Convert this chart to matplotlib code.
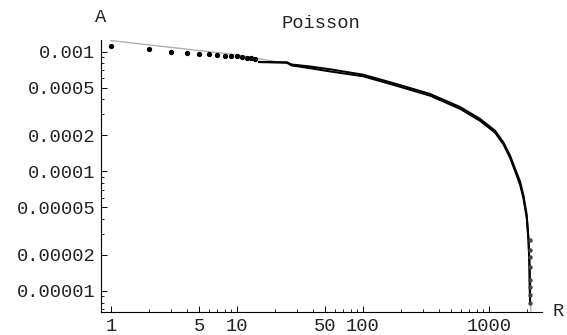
import numpy as np
import matplotlib
matplotlib.use('Agg')
import matplotlib.pyplot as plt
from matplotlib.ticker import FixedLocator, NullFormatter

plt.rcParams['font.family'] = ['Liberation Mono', 'DejaVu Sans Mono']

# first ranks, drawn as single dots
dot_rank = [1, 2, 3, 4, 5, 6, 7, 8, 9, 10, 11, 12, 13, 14]
dot_abund = [1.13e-3, 1.06e-3, 1.00e-3, 9.87e-4, 9.62e-4, 9.56e-4, 9.44e-4,
             9.30e-4, 9.26e-4, 9.20e-4, 9.03e-4, 8.95e-4, 8.90e-4, 8.78e-4]

# dense part of the samples (upper and lower edge of the black band)
curve_rank = [15, 25, 27, 38, 55, 100, 185, 340, 589, 849, 1117, 1299, 1468,
              1608, 1762, 1872, 1991, 2057, 2095, 2115]
curve_a = [8.25e-4, 8.17e-4, 7.85e-4, 7.55e-4, 7.15e-4, 6.45e-4, 5.38e-4,
           4.45e-4, 3.46e-4, 2.75e-4, 2.19e-4, 1.75e-4, 1.36e-4, 1.05e-4,
           8.2e-5, 6.3e-5, 4.3e-5, 2.75e-5, 1.62e-5, 7.9e-6]
curve_b = [8.20e-4, 8.12e-4, 7.70e-4, 7.30e-4, 6.85e-4, 6.25e-4, 5.20e-4,
           4.30e-4, 3.34e-4, 2.65e-4, 2.11e-4, 1.69e-4, 1.30e-4, 1.01e-4,
           7.75e-5, 6.0e-5, 4.08e-5, 2.6e-5, 1.56e-5, 7.9e-6]

# last ranks, drawn as dots
tail_rank = [2098, 2101, 2104, 2106, 2109, 2111, 2113, 2115]
tail_abund = [2.67e-5, 2.20e-5, 1.93e-5, 1.59e-5, 1.24e-5, 1.08e-5, 9.26e-6, 7.94e-6]

# gray reference curve
theo_rank = [1, 10, 20, 50, 100, 200, 500, 1000, 1300, 1608, 1762, 1872,
             1991, 2057, 2100, 2130, 2143]
theo_abund = [1.243e-3, 9.44e-4, 8.30e-4, 7.05e-4, 6.30e-4, 5.20e-4, 3.75e-4,
              2.38e-4, 1.76e-4, 1.08e-4, 8.5e-5, 6.6e-5, 4.6e-5, 3.0e-5,
              2.0e-5, 1.2e-5, 6.8e-6]

xlabels = [1, 5, 10, 50, 100, 1000]
ylabels = [0.001, 0.0005, 0.0002, 0.0001, 0.00005, 0.00002, 0.00001]
ylabel_txt = ['0.001', '0.0005', '0.0002', '0.0001', '0.00005', '0.00002', '0.00001']

fig = plt.figure(figsize=(5.67, 3.35), dpi=100)
ax = fig.add_axes([0.178, 0.0687, 0.778, 0.8123])

ax.plot(theo_rank, theo_abund, color='#b0b0b0', lw=1.0, zorder=1)
ax.plot(curve_rank, curve_a, color='black', lw=1.4, zorder=2)
ax.plot(curve_rank, curve_b, color='black', lw=1.4, zorder=2)
ax.plot(dot_rank, dot_abund, 'o', color='black', ms=2.8, zorder=3)
ax.plot(tail_rank, tail_abund, 'o', color='#444444', ms=2.2, zorder=3)

ax.set_xscale('log')
ax.set_yscale('log')
ax.set_xlim(0.833, 2635)
ax.set_ylim(6.67e-6, 1.26e-3)

ax.xaxis.set_major_locator(FixedLocator(xlabels))
ax.set_xticklabels([str(v) for v in xlabels])
xminor = [m * 10 ** e for e in range(0, 4) for m in range(2, 10)
          if m * 10 ** e not in xlabels and m * 10 ** e < 2635]
ax.xaxis.set_minor_locator(FixedLocator(xminor))
ax.xaxis.set_minor_formatter(NullFormatter())

ax.yaxis.set_major_locator(FixedLocator(ylabels))
ax.set_yticklabels(ylabel_txt)
yminor = [m * 10.0 ** e for e in range(-6, -2) for m in (3, 4, 6, 7, 8, 9)]
yminor = [v for v in yminor if 6.67e-6 < v < 1.26e-3]
ax.yaxis.set_minor_locator(FixedLocator(yminor))
ax.yaxis.set_minor_formatter(NullFormatter())

ax.tick_params(which='major', direction='in', length=4, width=0.7,
               labelsize=13.5, labelcolor='#222222', pad=4)
ax.tick_params(which='minor', direction='in', length=2.2, width=0.6)
for s in ['top', 'right']:
    ax.spines[s].set_visible(False)
for s in ['left', 'bottom']:
    ax.spines[s].set_linewidth(0.8)

fig.text(101 / 567, 1 - 18 / 335, 'A', fontsize=13.5, color='#222222', ha='center', va='center')
fig.text(558 / 567, 1 - 312 / 335, 'R', fontsize=13.5, color='#222222', ha='center', va='center')
fig.text(321 / 567, 1 - 23 / 335, 'Poisson', fontsize=13.5, color='#222222', ha='center', va='center')

fig.savefig('out.png', dpi=100)
